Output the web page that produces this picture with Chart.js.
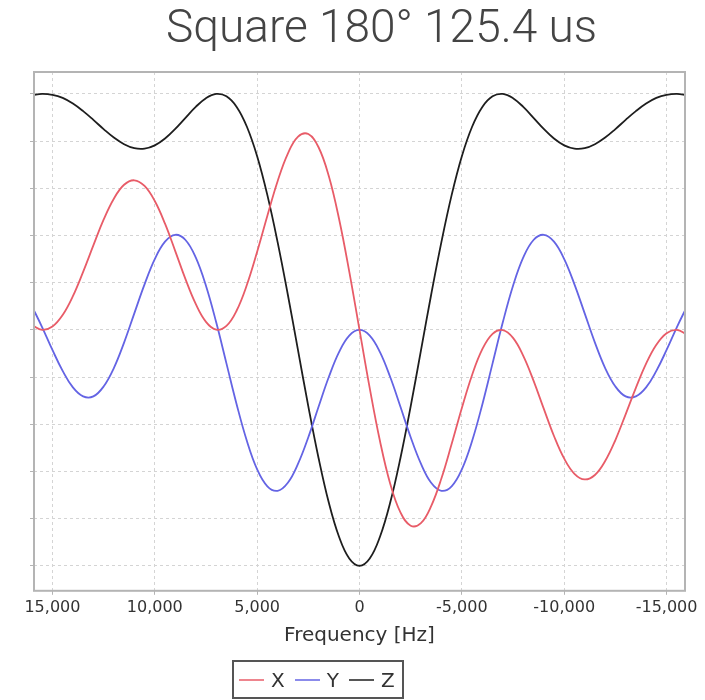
<!DOCTYPE html>
<html>
<head>
<meta charset="utf-8">
<title>Square 180° 125.4 us</title>
<script src="https://cdn.jsdelivr.net/npm/chart.js@4.4.1/dist/chart.umd.min.js"></script>
<style>
    html, body { margin: 0; padding: 0; background: #fff; overflow: hidden; }
    #wrap { position: relative; width: 705px; height: 700px; }
    #title {
        position: absolute; top: 0; left: 0; width: 705px;
        transform: translateX(29px);
        text-align: center;
        font-family: Roboto, 'Noto Sans', sans-serif; font-weight: 300;
        font-size: 46px; line-height: 52px; color: #444;
    }
    #legend {
        position: absolute; left: 232px; top: 660px; width: 168px; height: 35px;
        border: 2px solid #555; box-sizing: content-box;
        display: flex; align-items: center; padding-left: 0;
        font-family: 'DejaVu Sans', sans-serif; font-size: 20px; color: #333;
    }
    #legend .swatch { display: inline-block; width: 25px; height: 2px; margin: 0 7px 0 0; opacity: 0.75; }
    #legend .item { display: inline-flex; align-items: center; margin-left: 5px; margin-right: 5px; }
</style>
</head>
<body>
<div id="wrap">
    <canvas id="pulseChart" width="705" height="700"></canvas>
    <div id="title">Square 180° 125.4 us</div>
    <div id="legend"></div>
</div>
<script>
// Décalage en fréquence (Hz), de +16 kHz à -16 kHz
const freqs = [
    16000, 15500, 15000, 14500, 14000, 13500, 13000, 12500, 12000, 11500, 11000,
    10500, 10000, 9500, 9000, 8500, 8000, 7500, 7000, 6500, 6000, 5500, 5000,
    4500, 4000, 3500, 3000, 2500, 2000, 1500, 1000, 500, 0,
    -500, -1000, -1500, -2000, -2500, -3000, -3500, -4000, -4500, -5000, -5500,
    -6000, -6500, -7000, -7500, -8000, -8500, -9000, -9500, -10000, -10500,
    -11000, -11500, -12000, -12500, -13000, -13500, -14000, -14500, -15000,
    -15500, -16000
];

// Aimantation finale après l'impulsion
const mx = [
    0.021, 0.000, 0.014, 0.063, 0.143, 0.246, 0.358, 0.467, 0.556, 0.615, 0.634,
    0.610, 0.546, 0.450, 0.334, 0.215, 0.110, 0.034, 0.001, 0.017, 0.082, 0.191, 0.331,
    0.484, 0.630, 0.747, 0.819, 0.830, 0.774, 0.652, 0.471, 0.247, 0.000,
    -0.247, -0.471, -0.652, -0.774, -0.830, -0.819, -0.747, -0.630, -0.484, -0.331, -0.191,
    -0.082, -0.017, -0.001, -0.034, -0.110, -0.215, -0.334, -0.450, -0.546, -0.610,
    -0.634, -0.615, -0.556, -0.467, -0.358, -0.246, -0.143, -0.063, -0.014,
    0.000, -0.021
];
const my = [
    0.100, 0.011, -0.085, -0.174, -0.244, -0.282, -0.282, -0.240, -0.162, -0.054, 0.070,
    0.193, 0.300, 0.374, 0.403, 0.381, 0.307, 0.187, 0.032, -0.142, -0.316, -0.471, -0.591,
    -0.663, -0.682, -0.648, -0.567, -0.455, -0.326, -0.200, -0.094, -0.024, 0.000,
    -0.024, -0.094, -0.200, -0.326, -0.455, -0.567, -0.648, -0.682, -0.663, -0.591, -0.471,
    -0.316, -0.142, 0.032, 0.187, 0.307, 0.381, 0.403, 0.374, 0.300, 0.193,
    0.070, -0.054, -0.162, -0.240, -0.282, -0.282, -0.244, -0.174, -0.085,
    0.011, 0.100
];
const mz = [
    0.995, 1.000, 0.996, 0.983, 0.959, 0.927, 0.890, 0.851, 0.815, 0.787, 0.770,
    0.768, 0.782, 0.811, 0.852, 0.899, 0.945, 0.982, 1.000, 0.990, 0.945, 0.861, 0.736,
    0.571, 0.372, 0.149, -0.088, -0.324, -0.543, -0.732, -0.877, -0.969, -1.000,
    -0.969, -0.877, -0.732, -0.543, -0.324, -0.088, 0.149, 0.372, 0.571, 0.736, 0.861,
    0.945, 0.990, 1.000, 0.982, 0.945, 0.899, 0.852, 0.811, 0.782, 0.768,
    0.770, 0.787, 0.815, 0.851, 0.890, 0.927, 0.959, 0.983, 0.996,
    1.000, 0.995
];

const seriesNames = ['X', 'Y', 'Z'];
const seriesColors = ['rgb(232, 92, 104)', 'rgb(100, 100, 228)', '#1e1e1e'];

// Graduations
const xTicks = [15000, 10000, 5000, 0, -5000, -10000, -15000];
const yTicks = [-1, -0.8, -0.6, -0.4, -0.2, 0, 0.2, 0.4, 0.6, 0.8, 1];

const toPoints = values => freqs.map((f, i) => ({ x: f, y: values[i] }));

// Cadre gris autour de la zone de tracé
const frame = {
    id: 'frame',
    afterDraw(chart) {
        const { ctx, chartArea: a } = chart;
        ctx.save();
        ctx.strokeStyle = '#b4b4b4';
        ctx.lineWidth = 2;
        ctx.strokeRect(a.left, a.top, a.right - a.left, a.bottom - a.top);
        ctx.restore();
    }
};

const gridStyle = {
    color: '#d4d4d4',
    lineWidth: 1,
    tickLength: 4,
    tickColor: '#b4b4b4'
};

new Chart(document.getElementById('pulseChart'), {
    type: 'line',
    data: {
        datasets: [mx, my, mz].map((values, i) => ({
            label: seriesNames[i],
            data: toPoints(values),
            borderColor: seriesColors[i],
            backgroundColor: seriesColors[i],
            borderWidth: 1.8,
            pointRadius: 0,
            tension: 0.4,
            fill: false
        }))
    },
    options: {
        responsive: false,
        animation: false,
        layout: { padding: { top: 72, left: 30, right: 20, bottom: 52 } },
        scales: {
            x: {
                type: 'linear',
                reverse: true,
                min: -15900,
                max: 15900,
                afterBuildTicks: axis => { axis.ticks = xTicks.map(v => ({ value: v })); },
                grid: gridStyle,
                border: { display: false, dash: [3, 3] },
                ticks: {
                    color: '#333',
                    font: { family: "'DejaVu Sans', sans-serif", size: 16 },
                    padding: 3,
                    maxRotation: 0
                },
                title: {
                    display: true,
                    text: 'Frequency [Hz]',
                    color: '#333',
                    font: { family: "'DejaVu Sans', sans-serif", size: 20 },
                    padding: { top: 4, bottom: 0 }
                }
            },
            y: {
                min: -1.106,
                max: 1.093,
                afterBuildTicks: axis => { axis.ticks = yTicks.map(v => ({ value: v })); },
                grid: gridStyle,
                border: { display: false, dash: [3, 3] },
                ticks: { display: false }
            }
        },
        plugins: {
            legend: { display: false },
            tooltip: { enabled: false }
        }
    },
    plugins: [frame]
});

// Légende encadrée sous le graphique
const legendEl = document.getElementById('legend');
seriesNames.forEach((name, i) => {
    const item = document.createElement('span');
    item.className = 'item';
    const swatch = document.createElement('span');
    swatch.className = 'swatch';
    swatch.style.background = seriesColors[i];
    item.appendChild(swatch);
    item.appendChild(document.createTextNode(name));
    legendEl.appendChild(item);
});
</script>
</body>
</html>
